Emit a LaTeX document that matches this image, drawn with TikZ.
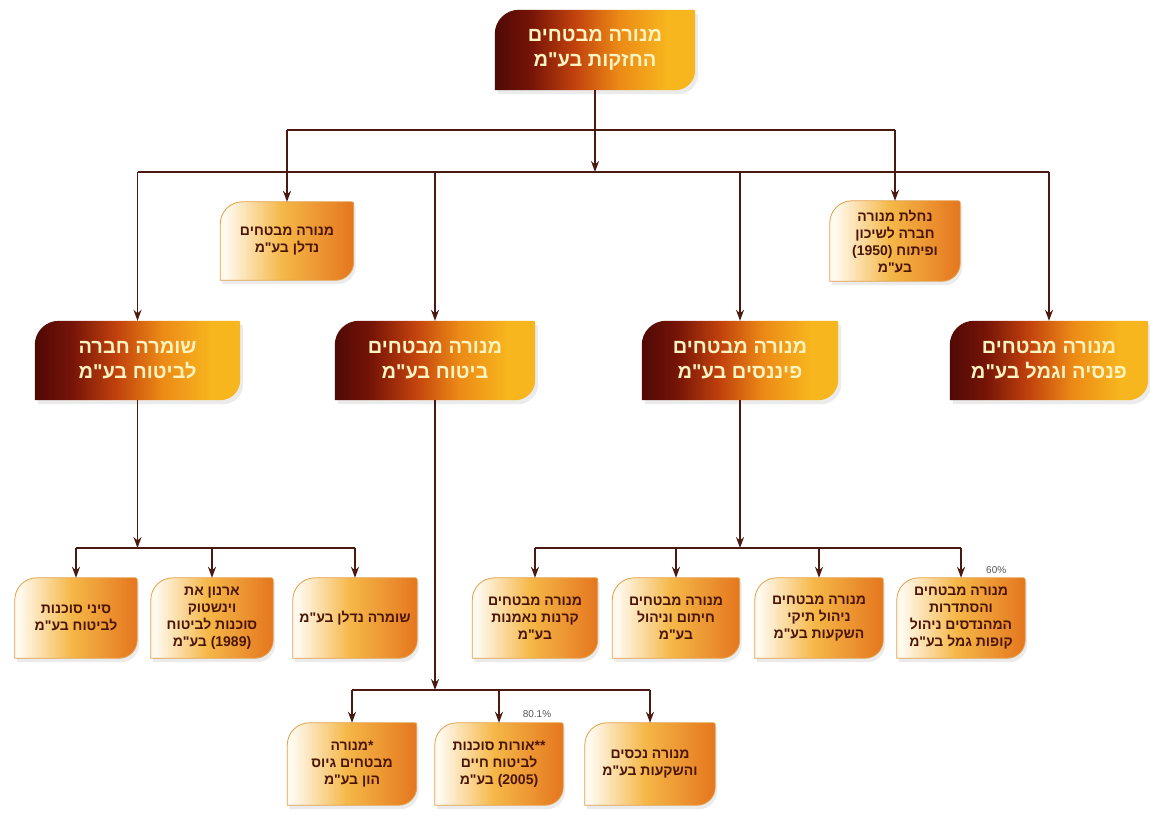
\documentclass[tikz,border=0pt]{standalone}
\usepackage{fontspec}
\setmainfont{Liberation Sans}
\newfontfamily\hebfont[Script=Hebrew]{Liberation Sans}
\usetikzlibrary{calc,arrows.meta,backgrounds}
\TeXXeTstate=1
\newcommand\hebline[1]{\beginR #1\endR}
\definecolor{linec}{HTML}{4A1A10}
\definecolor{bigtext}{HTML}{FFF3C0}
\definecolor{smalltext}{HTML}{4A1505}
\definecolor{bA}{HTML}{500905}
\definecolor{bB}{HTML}{761407}
\definecolor{bC}{HTML}{C2420D}
\definecolor{bD}{HTML}{EC8A16}
\definecolor{bE}{HTML}{F7B61E}
\definecolor{sA}{HTML}{FFF9EE}
\definecolor{sB}{HTML}{F5B848}
\definecolor{sC}{HTML}{E5761E}
\definecolor{sborder}{HTML}{E2A04A}
\definecolor{pctc}{HTML}{555555}
\pgfdeclarehorizontalshading{bigsh}{100bp}{color(0bp)=(bA); color(25bp)=(bA); color(34bp)=(bB); color(45bp)=(bC); color(56bp)=(bD); color(68bp)=(bE); color(100bp)=(bE)}
\pgfdeclarehorizontalshading{smallsh}{100bp}{color(0bp)=(sA); color(27bp)=(sA); color(48bp)=(sB); color(75bp)=(sC); color(100bp)=(sC)}
\newcommand\boxpath[3]{(#1.south west) -- ($(#1.north west)+(0,#2)$) .. controls ($(#1.north west)+(0,0.45*#2)$) and ($(#1.north west)+(0.45*#2,0)$) .. ($(#1.north west)+(#2,0)$) -- ($(#1.north east)+(-4,0)$) .. controls (#1.north east) .. ($(#1.north east)+(0,4)$) -- ($(#1.south east)+(0,-#3)$) .. controls ($(#1.south east)+(0,-0.45*#3)$) and ($(#1.south east)+(-0.45*#3,0)$) .. ($(#1.south east)+(-#3,0)$) -- cycle}
\tikzset{
 bignode/.style={inner sep=0pt, text=bigtext, align=center, font=\hebfont\bfseries\fontsize{20}{25}\selectfont},
 smallnode/.style={inner sep=0pt, text=smalltext, align=center, font=\hebfont\bfseries\fontsize{14}{17}\selectfont},
 conn/.style={draw=linec, line width=1.7pt},
 arr/.style={conn, -{Stealth[length=11pt,width=8pt]}},
 pct/.style={font=\fontsize{10}{12}\selectfont, text=pctc, inner sep=0pt},
 shadowfill/.style={fill=black, opacity=0.08}
}
\begin{document}
\begin{tikzpicture}[x=1pt,y=-1pt]
\useasboundingbox (0,0) rectangle (1150,820);
% top
\node[bignode, minimum width=200pt, minimum height=80pt] (T) at (595,50) {\hebline{מנורה מבטחים}\\\hebline{החזקות בע"מ}};
% second level small
\node[smallnode, minimum width=133pt, minimum height=78pt] (N1) at (287,241) {\hebline{מנורה מבטחים}\\\hebline{נדלן בע"מ}};
\node[smallnode, minimum width=130pt, minimum height=80pt] (N2) at (895,241) {\hebline{נחלת מנורה}\\\hebline{חברה לשיכון}\\\hebline{ופיתוח \beginL(1950)\endL}\\\hebline{בע"מ}};
% big row
\node[bignode, minimum width=205pt, minimum height=79pt] (B1) at (137.5,360.5) {\hebline{שומרה חברה}\\\hebline{לביטוח בע"מ}};
\node[bignode, minimum width=200pt, minimum height=79pt] (B2) at (435,360.5) {\hebline{מנורה מבטחים}\\\hebline{ביטוח בע"מ}};
\node[bignode, minimum width=196pt, minimum height=79pt] (B3) at (740,360.5) {\hebline{מנורה מבטחים}\\\hebline{פיננסים בע"מ}};
\node[bignode, minimum width=198pt, minimum height=79pt] (B4) at (1049,360.5) {\hebline{מנורה מבטחים}\\\hebline{פנסיה וגמל בע"מ}};
% under B1
\node[smallnode, minimum width=122pt, minimum height=80pt] (S1) at (76,618) {\hebline{סיני סוכנות}\\\hebline{לביטוח בע"מ}};
\node[smallnode, minimum width=122pt, minimum height=80pt] (S2) at (212,618) {\hebline{ארנון את}\\\hebline{וינשטוק}\\\hebline{סוכנות לביטוח}\\\hebline{\beginL(1989)\endL{} בע"מ}};
\node[smallnode, minimum width=124pt, minimum height=80pt] (S3) at (355,618) {\hebline{שומרה נדלן בע"מ}};
% under B3
\node[smallnode, minimum width=125pt, minimum height=80pt] (F1) at (535,618) {\hebline{מנורה מבטחים}\\\hebline{קרנות נאמנות}\\\hebline{בע"מ}};
\node[smallnode, minimum width=127pt, minimum height=80pt] (F2) at (676,618) {\hebline{מנורה מבטחים}\\\hebline{חיתום וניהול}\\\hebline{בע"מ}};
\node[smallnode, minimum width=128pt, minimum height=80pt] (F3) at (819,618) {\hebline{מנורה מבטחים}\\\hebline{ניהול תיקי}\\\hebline{השקעות בע"מ}};
\node[smallnode, minimum width=128pt, minimum height=80pt] (F4) at (961,618) {\hebline{מנורה מבטחים}\\\hebline{והסתדרות}\\\hebline{המהנדסים ניהול}\\\hebline{קופות גמל בע"מ}};
% under B2
\node[smallnode, minimum width=129pt, minimum height=82pt] (G1) at (352,764) {\hebline{*מנורה}\\\hebline{מבטחים גיוס}\\\hebline{הון בע"מ}};
\node[smallnode, minimum width=128pt, minimum height=82pt] (G2) at (499,764) {\hebline{**אורות סוכנות}\\\hebline{לביטוח חיים}\\\hebline{\beginL(2005)\endL{} בע"מ}};
\node[smallnode, minimum width=130pt, minimum height=82pt] (G3) at (650,764) {\hebline{מנורה נכסים}\\\hebline{והשקעות בע"מ}};
% percentages
\node[pct, anchor=west] (p60) at (986,570) {60\%};
\node[pct] (p80) at (537,714) {80.1\%};
% backgrounds
\begin{scope}[on background layer]
\fill[white] (0,0) rectangle (1150,820);
\foreach \n in {T,B1,B2,B3,B4}{
  \fill[shadowfill, transform canvas={shift={(3pt,-4pt)}}] \boxpath{\n}{24}{20};
  \shade[shading=bigsh] \boxpath{\n}{24}{20};
}
\foreach \n in {N1,N2,S1,S2,S3,F1,F2,F3,F4,G1,G2,G3}{
  \fill[shadowfill, transform canvas={shift={(2pt,-4pt)}}] \boxpath{\n}{22}{18};
  \shade[shading=smallsh, draw=sborder, line width=0.8pt] \boxpath{\n}{22}{18};
}
\end{scope}
% junction coordinates
\coordinate (y130) at (0,130);
\coordinate (y172) at (0,172);
\coordinate (y548) at (0,548);
\coordinate (y690) at (0,690);
% top level connectors
\draw[conn] (N1.north |- y130) -- (N2.north |- y130);
\draw[arr] (T.south) -- (T.south |- y172);
\draw[arr] (N1.north |- y130) -- (N1.north);
\draw[arr] (N2.north |- y130) -- (N2.north);
\draw[conn] (B1.north |- y172) -- (B4.north |- y172);
\foreach \n in {B1,B2,B3,B4}{ \draw[arr] (\n.north |- y172) -- (\n.north); }
% under B1
\draw[arr] (B1.south) -- (B1.south |- y548);
\draw[conn] (S1.north |- y548) -- (S3.north |- y548);
\foreach \n in {S1,S2,S3}{ \draw[arr] (\n.north |- y548) -- (\n.north); }
% under B3
\draw[arr] (B3.south) -- (B3.south |- y548);
\draw[conn] (F1.north |- y548) -- (F4.north |- y548);
\foreach \n in {F1,F2,F3,F4}{ \draw[arr] (\n.north |- y548) -- (\n.north); }
% under B2
\draw[arr] (B2.south) -- (B2.south |- y690);
\draw[conn] (G1.north |- y690) -- (G3.north |- y690);
\foreach \n in {G1,G2,G3}{ \draw[arr] (\n.north |- y690) -- (\n.north); }
\end{tikzpicture}
\end{document}
